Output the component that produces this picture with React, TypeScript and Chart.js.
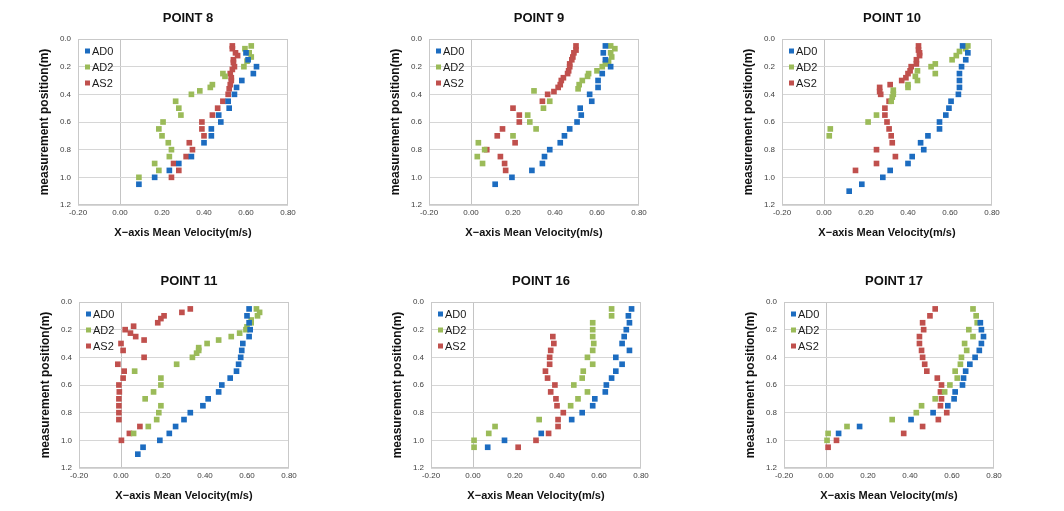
import React, { useEffect, useRef } from 'react';
import { Chart, registerables } from 'chart.js';

Chart.register(...registerables);

// ---------- shared labels / ticks ----------
const SERIES_NAMES = ['AD0', 'AD2', 'AS2'];
const SERIES_COLORS = ['#1c6cc0', '#9bbb59', '#c0504d'];
const X_TICKS = [-0.2, 0, 0.2, 0.4, 0.6, 0.8];
const Y_TICKS = [0, 0.2, 0.4, 0.6, 0.8, 1.0, 1.2];
const X_TITLE = 'X\u2212axis Mean Velocity(m/s)';
const Y_TITLE = 'measurement position(m)';
const PANEL_TITLES = ['POINT 8', 'POINT 9', 'POINT 10', 'POINT 11', 'POINT 16', 'POINT 17'];

// ---------- POINT 8 ----------
const P8_AD0_DEPTH = [0.10, 0.15, 0.20, 0.25, 0.30, 0.35, 0.40, 0.45, 0.50, 0.55, 0.60, 0.65, 0.70, 0.75, 0.85, 0.90, 0.95, 1.00, 1.05];
const P8_AD0_VEL = [0.60, 0.61, 0.65, 0.635, 0.58, 0.555, 0.545, 0.515, 0.52, 0.47, 0.48, 0.435, 0.435, 0.40, 0.34, 0.28, 0.235, 0.165, 0.09];
const P8_AD2_DEPTH = [0.05, 0.07, 0.10, 0.13, 0.16, 0.20, 0.25, 0.27, 0.33, 0.35, 0.375, 0.40, 0.45, 0.50, 0.55, 0.60, 0.65, 0.70, 0.75, 0.80, 0.85, 0.90, 0.95, 1.00];
const P8_AD2_VEL = [0.625, 0.595, 0.615, 0.625, 0.605, 0.59, 0.49, 0.50, 0.44, 0.43, 0.38, 0.34, 0.265, 0.28, 0.29, 0.205, 0.185, 0.20, 0.23, 0.245, 0.235, 0.165, 0.185, 0.09];
const P8_AS2_DEPTH = [0.05, 0.07, 0.10, 0.12, 0.15, 0.17, 0.20, 0.22, 0.25, 0.28, 0.30, 0.33, 0.36, 0.40, 0.45, 0.50, 0.55, 0.60, 0.65, 0.70, 0.75, 0.80, 0.85, 0.90, 0.95, 1.00];
const P8_AS2_VEL = [0.535, 0.535, 0.55, 0.56, 0.54, 0.54, 0.545, 0.535, 0.525, 0.53, 0.53, 0.525, 0.52, 0.515, 0.49, 0.465, 0.44, 0.39, 0.39, 0.40, 0.33, 0.345, 0.315, 0.255, 0.28, 0.245];

// ---------- POINT 9 ----------
const P9_AD0_DEPTH = [0.05, 0.10, 0.15, 0.20, 0.25, 0.30, 0.35, 0.40, 0.45, 0.50, 0.55, 0.60, 0.65, 0.70, 0.75, 0.80, 0.85, 0.90, 0.95, 1.00, 1.05];
const P9_AD0_VEL = [0.64, 0.63, 0.64, 0.665, 0.625, 0.605, 0.605, 0.565, 0.575, 0.52, 0.525, 0.505, 0.47, 0.445, 0.425, 0.375, 0.35, 0.34, 0.29, 0.195, 0.115];
const P9_AD2_DEPTH = [0.05, 0.07, 0.10, 0.13, 0.16, 0.18, 0.20, 0.23, 0.25, 0.27, 0.30, 0.33, 0.36, 0.375, 0.45, 0.50, 0.55, 0.60, 0.65, 0.70, 0.75, 0.80, 0.85, 0.90];
const P9_AD2_VEL = [0.665, 0.685, 0.665, 0.67, 0.655, 0.64, 0.625, 0.60, 0.56, 0.555, 0.53, 0.515, 0.51, 0.30, 0.375, 0.345, 0.27, 0.28, 0.31, 0.20, 0.035, 0.065, 0.03, 0.055];
const P9_AS2_DEPTH = [0.05, 0.08, 0.10, 0.13, 0.15, 0.18, 0.20, 0.23, 0.25, 0.28, 0.30, 0.33, 0.35, 0.38, 0.40, 0.45, 0.50, 0.55, 0.60, 0.65, 0.70, 0.75, 0.80, 0.85, 0.90, 0.95];
const P9_AS2_VEL = [0.50, 0.50, 0.49, 0.485, 0.48, 0.47, 0.47, 0.465, 0.46, 0.44, 0.43, 0.425, 0.415, 0.395, 0.365, 0.34, 0.20, 0.23, 0.23, 0.15, 0.125, 0.21, 0.075, 0.14, 0.16, 0.165];

// ---------- POINT 10 ----------
const P10_AD0_DEPTH = [0.05, 0.10, 0.15, 0.20, 0.25, 0.30, 0.35, 0.40, 0.45, 0.50, 0.55, 0.60, 0.65, 0.70, 0.75, 0.80, 0.85, 0.90, 0.95, 1.00, 1.05, 1.10];
const P10_AD0_VEL = [0.66, 0.685, 0.675, 0.655, 0.645, 0.645, 0.645, 0.64, 0.605, 0.595, 0.58, 0.55, 0.55, 0.495, 0.46, 0.475, 0.42, 0.40, 0.315, 0.28, 0.18, 0.12];
const P10_AD2_DEPTH = [0.05, 0.07, 0.09, 0.12, 0.15, 0.18, 0.20, 0.23, 0.25, 0.27, 0.30, 0.33, 0.35, 0.37, 0.40, 0.42, 0.45, 0.55, 0.60, 0.65, 0.70];
const P10_AD2_VEL = [0.685, 0.675, 0.645, 0.63, 0.61, 0.53, 0.51, 0.445, 0.53, 0.435, 0.445, 0.40, 0.40, 0.33, 0.33, 0.325, 0.32, 0.25, 0.21, 0.03, 0.025];
const P10_AS2_DEPTH = [0.05, 0.08, 0.10, 0.12, 0.15, 0.18, 0.20, 0.23, 0.25, 0.28, 0.30, 0.33, 0.35, 0.38, 0.40, 0.45, 0.50, 0.55, 0.60, 0.65, 0.70, 0.75, 0.80, 0.85, 0.90, 0.95];
const P10_AS2_VEL = [0.45, 0.45, 0.455, 0.455, 0.44, 0.44, 0.415, 0.41, 0.40, 0.39, 0.37, 0.315, 0.265, 0.265, 0.27, 0.31, 0.29, 0.29, 0.30, 0.31, 0.32, 0.325, 0.25, 0.34, 0.25, 0.15];

// ---------- POINT 11 ----------
const P11_AD0_DEPTH = [0.05, 0.10, 0.15, 0.20, 0.25, 0.30, 0.35, 0.40, 0.45, 0.50, 0.55, 0.60, 0.65, 0.70, 0.75, 0.80, 0.85, 0.90, 0.95, 1.00, 1.05, 1.10];
const P11_AD0_VEL = [0.61, 0.60, 0.61, 0.615, 0.61, 0.58, 0.575, 0.57, 0.56, 0.55, 0.52, 0.48, 0.465, 0.415, 0.39, 0.33, 0.30, 0.26, 0.23, 0.185, 0.105, 0.08];
const P11_AD2_DEPTH = [0.05, 0.075, 0.10, 0.13, 0.15, 0.18, 0.20, 0.225, 0.25, 0.275, 0.30, 0.33, 0.35, 0.37, 0.40, 0.45, 0.50, 0.55, 0.60, 0.65, 0.70, 0.75, 0.80, 0.85, 0.90, 0.95];
const P11_AD2_VEL = [0.645, 0.66, 0.65, 0.62, 0.62, 0.60, 0.595, 0.565, 0.525, 0.465, 0.41, 0.37, 0.37, 0.36, 0.34, 0.265, 0.065, 0.19, 0.19, 0.155, 0.115, 0.19, 0.18, 0.17, 0.13, 0.06];
const P11_AS2_DEPTH = [0.05, 0.075, 0.10, 0.12, 0.15, 0.175, 0.20, 0.225, 0.25, 0.275, 0.30, 0.35, 0.40, 0.45, 0.50, 0.55, 0.60, 0.65, 0.70, 0.75, 0.80, 0.85, 0.90, 0.95, 1.00];
const P11_AS2_VEL = [0.33, 0.29, 0.205, 0.19, 0.175, 0.06, 0.02, 0.045, 0.07, 0.11, 0.0, 0.01, 0.11, -0.015, 0.015, 0.01, -0.01, -0.008, -0.01, -0.01, -0.01, -0.01, 0.09, 0.04, 0.002];

// ---------- POINT 16 ----------
const P16_AD0_DEPTH = [0.05, 0.10, 0.15, 0.20, 0.25, 0.30, 0.35, 0.40, 0.45, 0.50, 0.55, 0.60, 0.65, 0.70, 0.75, 0.80, 0.85, 0.95, 1.00, 1.05];
const P16_AD0_VEL = [0.755, 0.74, 0.745, 0.73, 0.72, 0.71, 0.745, 0.68, 0.71, 0.68, 0.66, 0.635, 0.63, 0.58, 0.57, 0.52, 0.47, 0.325, 0.15, 0.07];
const P16_AD2_DEPTH = [0.05, 0.10, 0.15, 0.20, 0.25, 0.30, 0.35, 0.40, 0.45, 0.50, 0.55, 0.60, 0.65, 0.70, 0.75, 0.85, 0.90, 0.95, 1.00, 1.05];
const P16_AD2_VEL = [0.66, 0.66, 0.57, 0.57, 0.57, 0.575, 0.57, 0.545, 0.57, 0.525, 0.52, 0.48, 0.545, 0.50, 0.465, 0.315, 0.105, 0.075, 0.005, 0.005];
const P16_AS2_DEPTH = [0.25, 0.30, 0.35, 0.40, 0.45, 0.50, 0.55, 0.60, 0.65, 0.70, 0.75, 0.80, 0.85, 0.90, 0.95, 1.00, 1.05];
const P16_AS2_VEL = [0.38, 0.385, 0.37, 0.365, 0.365, 0.345, 0.355, 0.39, 0.37, 0.395, 0.40, 0.43, 0.405, 0.405, 0.36, 0.30, 0.215];

// ---------- POINT 17 ----------
const P17_AD0_DEPTH = [0.15, 0.20, 0.25, 0.30, 0.35, 0.40, 0.45, 0.50, 0.55, 0.60, 0.65, 0.70, 0.75, 0.80, 0.85, 0.90, 0.95];
const P17_AD0_VEL = [0.735, 0.74, 0.75, 0.74, 0.73, 0.71, 0.685, 0.665, 0.655, 0.65, 0.615, 0.61, 0.58, 0.51, 0.405, 0.16, 0.06];
const P17_AD2_DEPTH = [0.05, 0.10, 0.15, 0.20, 0.25, 0.30, 0.35, 0.40, 0.45, 0.50, 0.55, 0.60, 0.65, 0.70, 0.75, 0.80, 0.85, 0.90, 0.95, 1.00];
const P17_AD2_VEL = [0.70, 0.715, 0.72, 0.68, 0.70, 0.66, 0.67, 0.645, 0.64, 0.615, 0.625, 0.59, 0.565, 0.52, 0.455, 0.43, 0.315, 0.10, 0.01, 0.005];
const P17_AS2_DEPTH = [0.05, 0.10, 0.15, 0.20, 0.25, 0.30, 0.35, 0.40, 0.45, 0.50, 0.55, 0.60, 0.65, 0.70, 0.75, 0.80, 0.85, 0.90, 0.95, 1.00, 1.05];
const P17_AS2_VEL = [0.52, 0.495, 0.46, 0.465, 0.445, 0.445, 0.455, 0.46, 0.47, 0.48, 0.53, 0.55, 0.545, 0.55, 0.545, 0.575, 0.535, 0.46, 0.37, 0.05, 0.01];

const PANEL_SERIES = [
  [[P8_AD0_DEPTH, P8_AD0_VEL], [P8_AD2_DEPTH, P8_AD2_VEL], [P8_AS2_DEPTH, P8_AS2_VEL]],
  [[P9_AD0_DEPTH, P9_AD0_VEL], [P9_AD2_DEPTH, P9_AD2_VEL], [P9_AS2_DEPTH, P9_AS2_VEL]],
  [[P10_AD0_DEPTH, P10_AD0_VEL], [P10_AD2_DEPTH, P10_AD2_VEL], [P10_AS2_DEPTH, P10_AS2_VEL]],
  [[P11_AD0_DEPTH, P11_AD0_VEL], [P11_AD2_DEPTH, P11_AD2_VEL], [P11_AS2_DEPTH, P11_AS2_VEL]],
  [[P16_AD0_DEPTH, P16_AD0_VEL], [P16_AD2_DEPTH, P16_AD2_VEL], [P16_AS2_DEPTH, P16_AS2_VEL]],
  [[P17_AD0_DEPTH, P17_AD0_VEL], [P17_AD2_DEPTH, P17_AD2_VEL], [P17_AS2_DEPTH, P17_AS2_VEL]],
];

// ---------- layout (plot-area origin of each panel) ----------
const PANEL_POS = [
  { left: 78, top: 39 },
  { left: 429, top: 39 },
  { left: 782, top: 39 },
  { left: 79, top: 302 },
  { left: 431, top: 302 },
  { left: 784, top: 302 },
];
const PLOT_W = 210;
const PLOT_H = 166;
const AXIS_W = 58;
const AXIS_H = 40;
const PAD_TOP = 39;
const PAD_RIGHT = 12;
const CANVAS_W = AXIS_W + PLOT_W + PAD_RIGHT;
const CANVAS_H = PAD_TOP + PLOT_H + AXIS_H;
const FONT = "'Liberation Sans', Arial, sans-serif";

const framePlugin = {
  id: 'frame',
  beforeDatasetsDraw(chart: any) {
    const { ctx, chartArea: a } = chart;
    ctx.save();
    ctx.strokeStyle = '#c9c9c9';
    ctx.lineWidth = 1;
    ctx.strokeRect(Math.round(a.left) + 0.5, Math.round(a.top) + 0.5, Math.round(a.right - a.left) - 1, Math.round(a.bottom - a.top) - 1);
    ctx.restore();
  },
};

const legendPlugin = {
  id: 'insideLegend',
  afterDatasetsDraw(chart: any) {
    const { ctx, chartArea: a } = chart;
    ctx.save();
    ctx.font = `11px ${FONT}`;
    ctx.textBaseline = 'middle';
    ctx.textAlign = 'left';
    chart.data.datasets.forEach((ds: any, i: number) => {
      const y = a.top + 12 + i * 16;
      ctx.fillStyle = ds.backgroundColor;
      ctx.fillRect(a.left + 7, y - 2.5, 5, 5);
      ctx.fillStyle = '#1a1a1a';
      ctx.fillText(ds.label, a.left + 14, y + 0.5);
    });
    ctx.restore();
  },
};

function makeTitlePlugin(text: string) {
  return {
    id: 'panelTitle',
    afterDraw(chart: any) {
      const { ctx, chartArea: a } = chart;
      ctx.save();
      ctx.font = `bold 13px ${FONT}`;
      ctx.textAlign = 'center';
      ctx.textBaseline = 'middle';
      ctx.fillStyle = '#111';
      ctx.fillText(text, (a.left + a.right) / 2 + 5, a.top - 21);
      ctx.restore();
    },
  };
}

function ScatterPanel({ index }: { index: number }) {
  const ref = useRef<HTMLCanvasElement | null>(null);
  const pos = PANEL_POS[index];
  useEffect(() => {
    if (!ref.current) return;
    const datasets = PANEL_SERIES[index].map(([depth, vel], i) => ({
      label: SERIES_NAMES[i],
      data: vel.map((v, k) => ({ x: v, y: depth[k] })),
      backgroundColor: SERIES_COLORS[i],
      borderColor: SERIES_COLORS[i],
      pointStyle: 'rect',
      pointRadius: 4,
      pointBorderWidth: 0,
      pointHoverRadius: 4,
      showLine: false,
    }));
    const chart = new Chart(ref.current, {
      type: 'scatter',
      data: { datasets },
      options: {
        animation: false,
        responsive: false,
        devicePixelRatio: 1,
        events: [],
        layout: { padding: { top: PAD_TOP, right: PAD_RIGHT, left: 0, bottom: 0 } },
        plugins: {
          legend: { display: false },
          tooltip: { enabled: false },
          title: { display: false },
        },
        scales: {
          x: {
            type: 'linear',
            min: -0.2,
            max: 0.8,
            afterBuildTicks: (s: any) => {
              s.ticks = X_TICKS.map((v) => ({ value: v }));
            },
            afterFit: (s: any) => {
              s.height = AXIS_H;
            },
            grid: {
              drawTicks: false,
              lineWidth: 1,
              color: (c: any) => (c.tick && Math.abs(c.tick.value) < 1e-9 ? '#c4c4c4' : 'rgba(0,0,0,0)'),
            },
            border: { display: false },
            ticks: {
              padding: 3,
              color: '#404040',
              font: { family: FONT, size: 8 },
              maxRotation: 0,
              callback: (v: any) => Number(v).toFixed(2),
            },
            title: {
              display: true,
              text: X_TITLE,
              color: '#111',
              font: { family: FONT, size: 11, weight: 'bold' },
              padding: { top: 0, bottom: 5 },
            },
          },
          y: {
            type: 'linear',
            reverse: true,
            min: 0,
            max: 1.2,
            afterBuildTicks: (s: any) => {
              s.ticks = Y_TICKS.map((v) => ({ value: v }));
            },
            afterFit: (s: any) => {
              s.width = AXIS_W;
            },
            grid: { drawTicks: false, lineWidth: 1, color: '#d6d6d6' },
            border: { display: false },
            ticks: {
              padding: 7,
              color: '#404040',
              font: { family: FONT, size: 8 },
              callback: (v: any) => Number(v).toFixed(1),
            },
            title: {
              display: true,
              text: Y_TITLE,
              color: '#111',
              font: { family: FONT, size: 12, weight: 'bold' },
              padding: { top: 17, bottom: 0 },
            },
          },
        },
      } as any,
      plugins: [framePlugin, legendPlugin, makeTitlePlugin(PANEL_TITLES[index])],
    });
    return () => chart.destroy();
  }, [index]);
  return (
    <canvas
      ref={ref}
      width={CANVAS_W}
      height={CANVAS_H}
      style={{
        position: 'absolute',
        left: pos.left - AXIS_W,
        top: pos.top - PAD_TOP,
        width: CANVAS_W,
        height: CANVAS_H,
      }}
    />
  );
}

export default function App() {
  return (
    <div
      style={{
        position: 'absolute',
        left: 0,
        top: 0,
        width: 1064,
        height: 511,
        overflow: 'hidden',
        background: '#ffffff',
      }}
    >
      {PANEL_TITLES.map((_, i) => (
        <ScatterPanel key={i} index={i} />
      ))}
    </div>
  );
}
